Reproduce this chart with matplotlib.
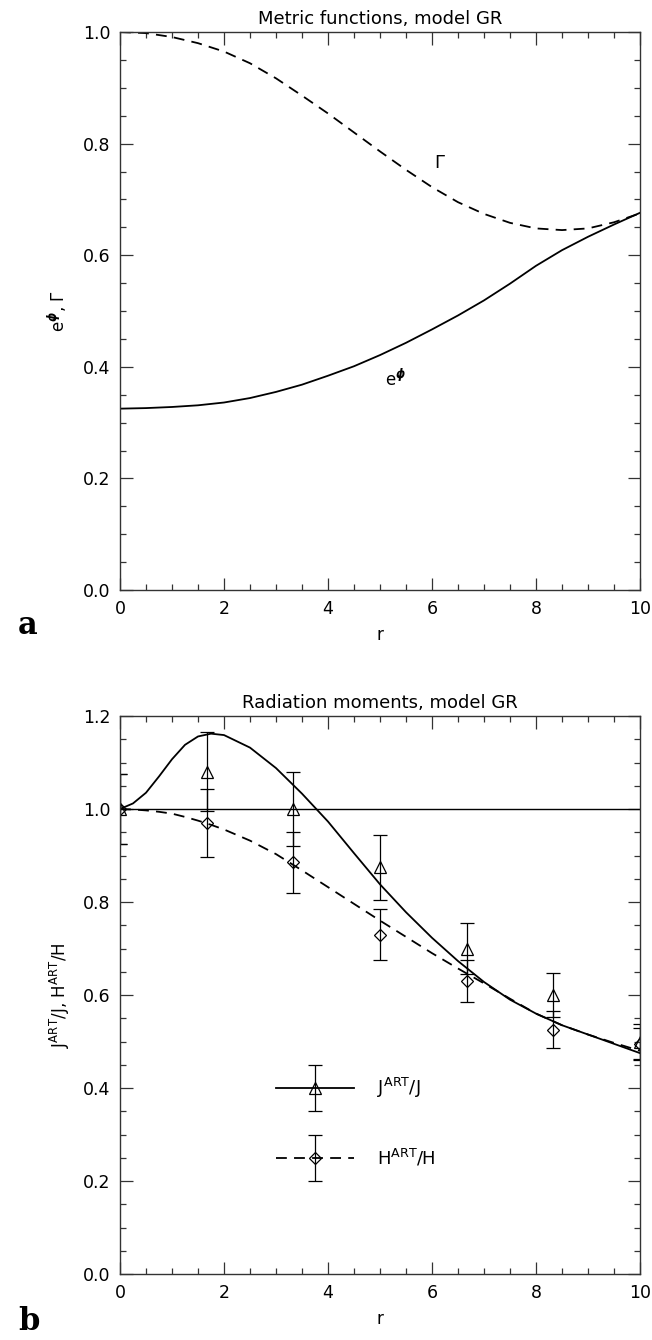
import matplotlib
matplotlib.use("Agg")
import matplotlib.pyplot as plt
import numpy as np
from matplotlib.ticker import MultipleLocator

plt.rcParams['font.family'] = ['DejaVu Sans']
plt.rcParams['mathtext.fontset'] = 'dejavusans'

# ---- Panel a: metric functions ----
r_metric = [0, 0.5, 1, 1.5, 2, 2.5, 3, 3.5, 4, 4.5, 5, 5.5, 6, 6.5, 7, 7.5, 8, 8.5, 9, 9.5, 10]
gamma = [1.0, 0.998, 0.991, 0.98, 0.965, 0.944, 0.917, 0.886, 0.854, 0.82, 0.786, 0.753, 0.722, 0.695, 0.674, 0.658, 0.648, 0.645, 0.648, 0.659, 0.675]
ephi = [0.325, 0.326, 0.328, 0.331, 0.336, 0.344, 0.355, 0.368, 0.384, 0.401, 0.421, 0.443, 0.467, 0.492, 0.519, 0.549, 0.581, 0.609, 0.633, 0.655, 0.676]

# ---- Panel b: radiation moments ----
r_curve = [0, 0.25, 0.5, 0.75, 1, 1.25, 1.5, 1.75, 2, 2.5, 3, 3.5, 4, 4.5, 5, 5.5, 6, 6.5, 7, 7.5, 8, 8.5, 9, 9.5, 10]
j_curve = [1.0, 1.012, 1.035, 1.07, 1.107, 1.138, 1.156, 1.162, 1.159, 1.132, 1.088, 1.033, 0.973, 0.905, 0.838, 0.778, 0.723, 0.673, 0.628, 0.59, 0.56, 0.535, 0.515, 0.495, 0.475]
h_curve = [1.0, 0.999, 0.997, 0.994, 0.99, 0.983, 0.975, 0.966, 0.956, 0.932, 0.903, 0.868, 0.832, 0.796, 0.76, 0.725, 0.69, 0.657, 0.625, 0.592, 0.56, 0.535, 0.515, 0.497, 0.48]

r_pts = [0, 1.667, 3.333, 5.0, 6.667, 8.333, 10.0]
j_pts = [1.0, 1.08, 1.0, 0.875, 0.70, 0.60, 0.50]
j_err = [0.075, 0.085, 0.08, 0.07, 0.055, 0.048, 0.037]
h_pts = [1.0, 0.97, 0.885, 0.73, 0.63, 0.525, 0.495]
h_err = [0.075, 0.073, 0.065, 0.055, 0.045, 0.04, 0.035]

fig = plt.figure(figsize=(6.52, 13.4), dpi=100)
W, H = 652.0, 1340.0
axA = fig.add_axes([120 / W, 1 - 590 / H, 520 / W, 558 / H])
axB = fig.add_axes([120 / W, 1 - 1274 / H, 520 / W, 558 / H])

dash = (0, (6, 4))
LW = 1.3
EB = dict(mfc='none', mec='black', mew=0.9, ecolor='black', elinewidth=0.9,
          capsize=5, capthick=1.3, color='black')


def style(ax, ymax):
    ax.set_xlim(0, 10)
    ax.set_ylim(0, ymax)
    ax.xaxis.set_major_locator(MultipleLocator(2))
    ax.xaxis.set_minor_locator(MultipleLocator(0.5))
    ax.yaxis.set_major_locator(MultipleLocator(0.2))
    ax.yaxis.set_minor_locator(MultipleLocator(0.05))
    ax.tick_params(which='both', direction='in', top=True, right=True, width=0.9, colors='#333333',
                   labelcolor='black')
    ax.tick_params(which='major', length=9, labelsize=12.5, pad=7)
    ax.tick_params(which='minor', length=4.5)
    ax.xaxis.set_major_formatter(matplotlib.ticker.FormatStrFormatter('%d'))
    ax.yaxis.set_major_formatter(matplotlib.ticker.FormatStrFormatter('%.1f'))
    for s in ax.spines.values():
        s.set_linewidth(1.0)
        s.set_color('#333333')
    ax.set_xlabel('r', fontsize=12, labelpad=6)


style(axA, 1.0)
axA.plot(r_metric, gamma, color='black', lw=LW, linestyle=dash)
axA.plot(r_metric, ephi, color='black', lw=LW)
axA.text(6.15, 0.765, r'$\Gamma$', fontsize=13, family='DejaVu Serif', ha='center', va='center')
axA.text(5.3, 0.378, r'e$^{\boldsymbol{\phi}}$', fontsize=12, ha='center', va='center')
axA.set_title('Metric functions, model GR', fontsize=13, pad=6)
axA.set_ylabel(r'e$^{\boldsymbol{\phi}}$, $\Gamma$', fontsize=12, labelpad=10)

style(axB, 1.2)
axB.axhline(1.0, color='black', lw=1.0)
axB.plot(r_curve, j_curve, color='black', lw=LW)
axB.plot(r_curve, h_curve, color='black', lw=LW, linestyle=dash)
axB.errorbar(r_pts, j_pts, yerr=j_err, fmt='^', ms=8, **EB)
axB.errorbar(r_pts, h_pts, yerr=h_err, fmt='D', ms=6, **EB)

# legend drawn in data coordinates
axB.plot([3.0, 4.5], [0.40, 0.40], color='black', lw=LW)
axB.errorbar([3.75], [0.40], yerr=[0.05], fmt='^', ms=8, **EB)
axB.text(4.95, 0.40, r'J$^{\mathrm{ART}}$/J', fontsize=13, va='center')
axB.plot([3.0, 4.5], [0.25, 0.25], color='black', lw=LW, linestyle=dash)
axB.errorbar([3.75], [0.25], yerr=[0.05], fmt='D', ms=6, **EB)
axB.text(4.95, 0.25, r'H$^{\mathrm{ART}}$/H', fontsize=13, va='center')

axB.set_title('Radiation moments, model GR', fontsize=13, pad=6)
axB.set_ylabel(r'J$^{\mathrm{ART}}$/J, H$^{\mathrm{ART}}$/H', fontsize=12, labelpad=8)

fig.text(18 / W, 1 - 625 / H, 'a', fontsize=22, fontweight='bold', family='DejaVu Serif', va='center')
fig.text(18 / W, 1 - 1322 / H, 'b', fontsize=22, fontweight='bold', family='DejaVu Serif', va='center')

fig.savefig('out.png', dpi=100)
